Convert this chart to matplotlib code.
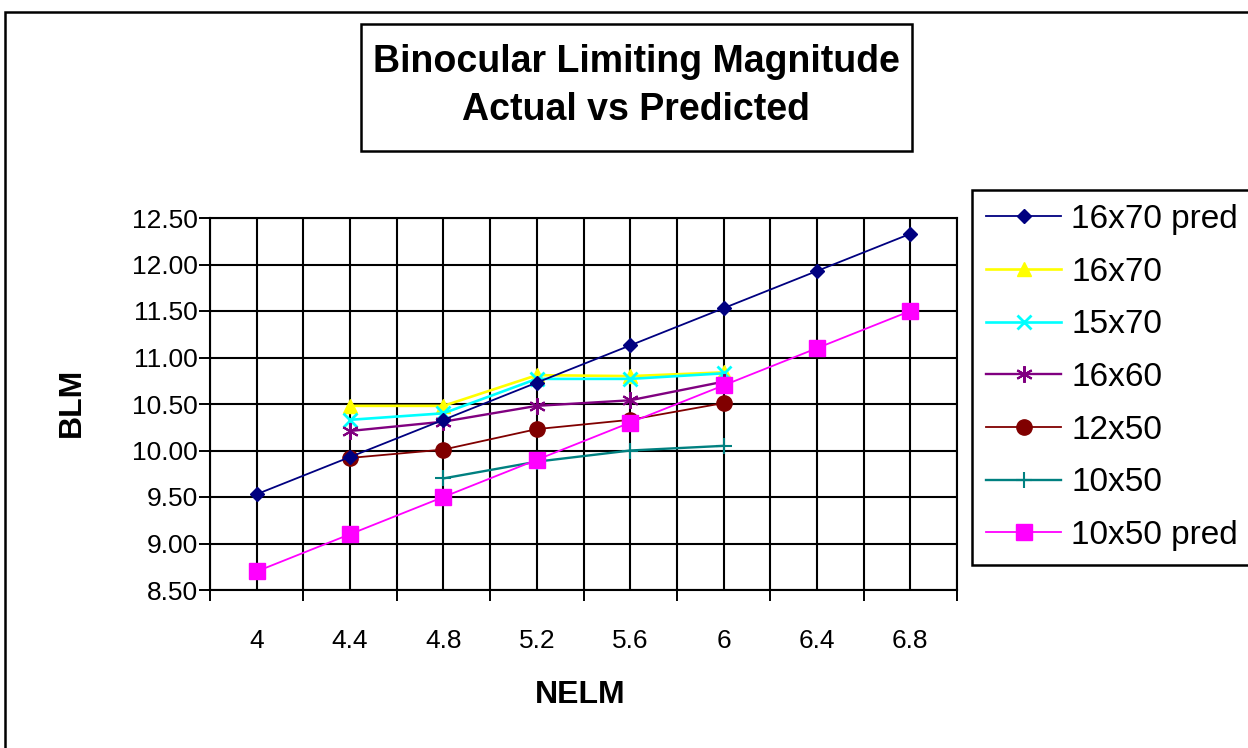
import matplotlib.pyplot as plt
from matplotlib.patches import Rectangle
import numpy as np

plt.rcParams['font.family'] = ['Liberation Sans', 'DejaVu Sans']

# NELM values (x) and BLM values (y) per binocular
nelm_pred = [4.0, 4.4, 4.8, 5.2, 5.6, 6.0, 6.4, 6.8]
pred_16x70 = [9.53, 9.93, 10.33, 10.73, 11.13, 11.53, 11.93, 12.33]
pred_10x50 = [8.70, 9.10, 9.50, 9.90, 10.30, 10.70, 11.10, 11.50]

nelm_obs = [4.4, 4.8, 5.2, 5.6, 6.0]
obs_16x70 = [10.48, 10.48, 10.81, 10.80, 10.84]
obs_15x70 = [10.33, 10.40, 10.77, 10.77, 10.83]
obs_16x60 = [10.21, 10.31, 10.48, 10.54, 10.74]
obs_12x50 = [9.92, 10.01, 10.23, 10.33, 10.51]

nelm_10x50 = [4.8, 5.2, 5.6, 6.0]
obs_10x50 = [9.70, 9.88, 10.00, 10.05]

x_labels = ['4', '4.4', '4.8', '5.2', '5.6', '6', '6.4', '6.8']

fig = plt.figure(figsize=(12.48, 7.48), dpi=100)
W, H = 1248, 748
ax = fig.add_axes([210 / W, 1 - 590 / H, (957 - 210) / W, (590 - 218) / H])

lw = 1.3
ax.plot(nelm_pred, pred_16x70, color='#000080', marker='D', ms=7, lw=lw, label='16x70 pred', zorder=5)
ax.plot(nelm_obs, obs_16x70, color='#FFFF00', marker='^', ms=10, lw=lw + 0.6, label='16x70', zorder=4)
ax.plot(nelm_obs, obs_15x70, color='#00FFFF', marker='x', ms=10, mew=2, lw=lw + 0.6, label='15x70', zorder=4)
ax.plot(nelm_obs, obs_16x60, color='#800080', marker=(6, 2, 0), ms=12, mew=1.5, lw=lw + 0.4, label='16x60', zorder=4)
ax.plot(nelm_obs, obs_12x50, color='#800000', marker='o', ms=11, lw=lw, label='12x50', zorder=4)
ax.plot(nelm_10x50, obs_10x50, color='#008080', marker='+', ms=12, mew=1.5, lw=lw + 0.4, label='10x50', zorder=4)
ax.plot(nelm_pred, pred_10x50, color='#FF00FF', marker='s', ms=11, lw=lw, label='10x50 pred', zorder=5)

ax.set_xlim(3.8, 7.0)
ax.set_ylim(8.5, 12.5)

# labels at category centres, tick marks between categories
ax.set_xticks(nelm_pred)
ax.set_xticklabels(x_labels)
ax.tick_params(axis='x', length=0, pad=28, labelsize=19)
ax.set_xticks(np.arange(3.8, 7.01, 0.4), minor=True)
ax.tick_params(axis='x', which='minor', length=8, width=1.4, direction='out', color='black')
ax.set_yticks(np.arange(8.5, 12.51, 0.5))
ax.set_yticklabels([f'{v:.2f}' for v in np.arange(8.5, 12.51, 0.5)])
ax.tick_params(axis='y', length=8, width=1.4, direction='out', pad=1, labelsize=19)

for xv in np.arange(3.8, 7.01, 0.2):
    ax.axvline(xv, color='black', lw=1.5, zorder=1)
for yv in np.arange(8.5, 12.51, 0.5):
    ax.axhline(yv, color='black', lw=1.5, zorder=1)
for s in ax.spines.values():
    s.set_color('black')
    s.set_linewidth(1.5)

fig.text(72 / W, 1 - 402 / H, 'BLM', rotation=90, ha='center', va='center', fontsize=23, fontweight='bold')
fig.text(580 / W, 1 - 695 / H, 'NELM', ha='center', va='center', fontsize=23, fontweight='bold')

# outer chart border and title box
fig.add_artist(Rectangle((5 / W, -0.02), 1.1, 1 - 12 / H + 0.02, transform=fig.transFigure,
                         fill=False, ec='black', lw=1.8))
fig.add_artist(Rectangle((361 / W, 1 - 151 / H), (912 - 361) / W, (151 - 24) / H, transform=fig.transFigure,
                         fill=False, ec='black', lw=1.8))
fig.text(636 / W, 1 - 62 / H, 'Binocular Limiting Magnitude', ha='center', va='center', fontsize=27, fontweight='bold')
fig.text(636 / W, 1 - 110 / H, 'Actual vs Predicted', ha='center', va='center', fontsize=27, fontweight='bold')

leg = fig.legend(loc='upper left', bbox_to_anchor=(972 / W, 1 - 190 / H), borderaxespad=0,
                 fontsize=24, handlelength=2.25, handletextpad=0.3, labelspacing=0.65,
                 borderpad=0.42, fancybox=False, edgecolor='black', framealpha=1)
leg.get_frame().set_linewidth(1.8)

fig.savefig('out.png', dpi=100)
